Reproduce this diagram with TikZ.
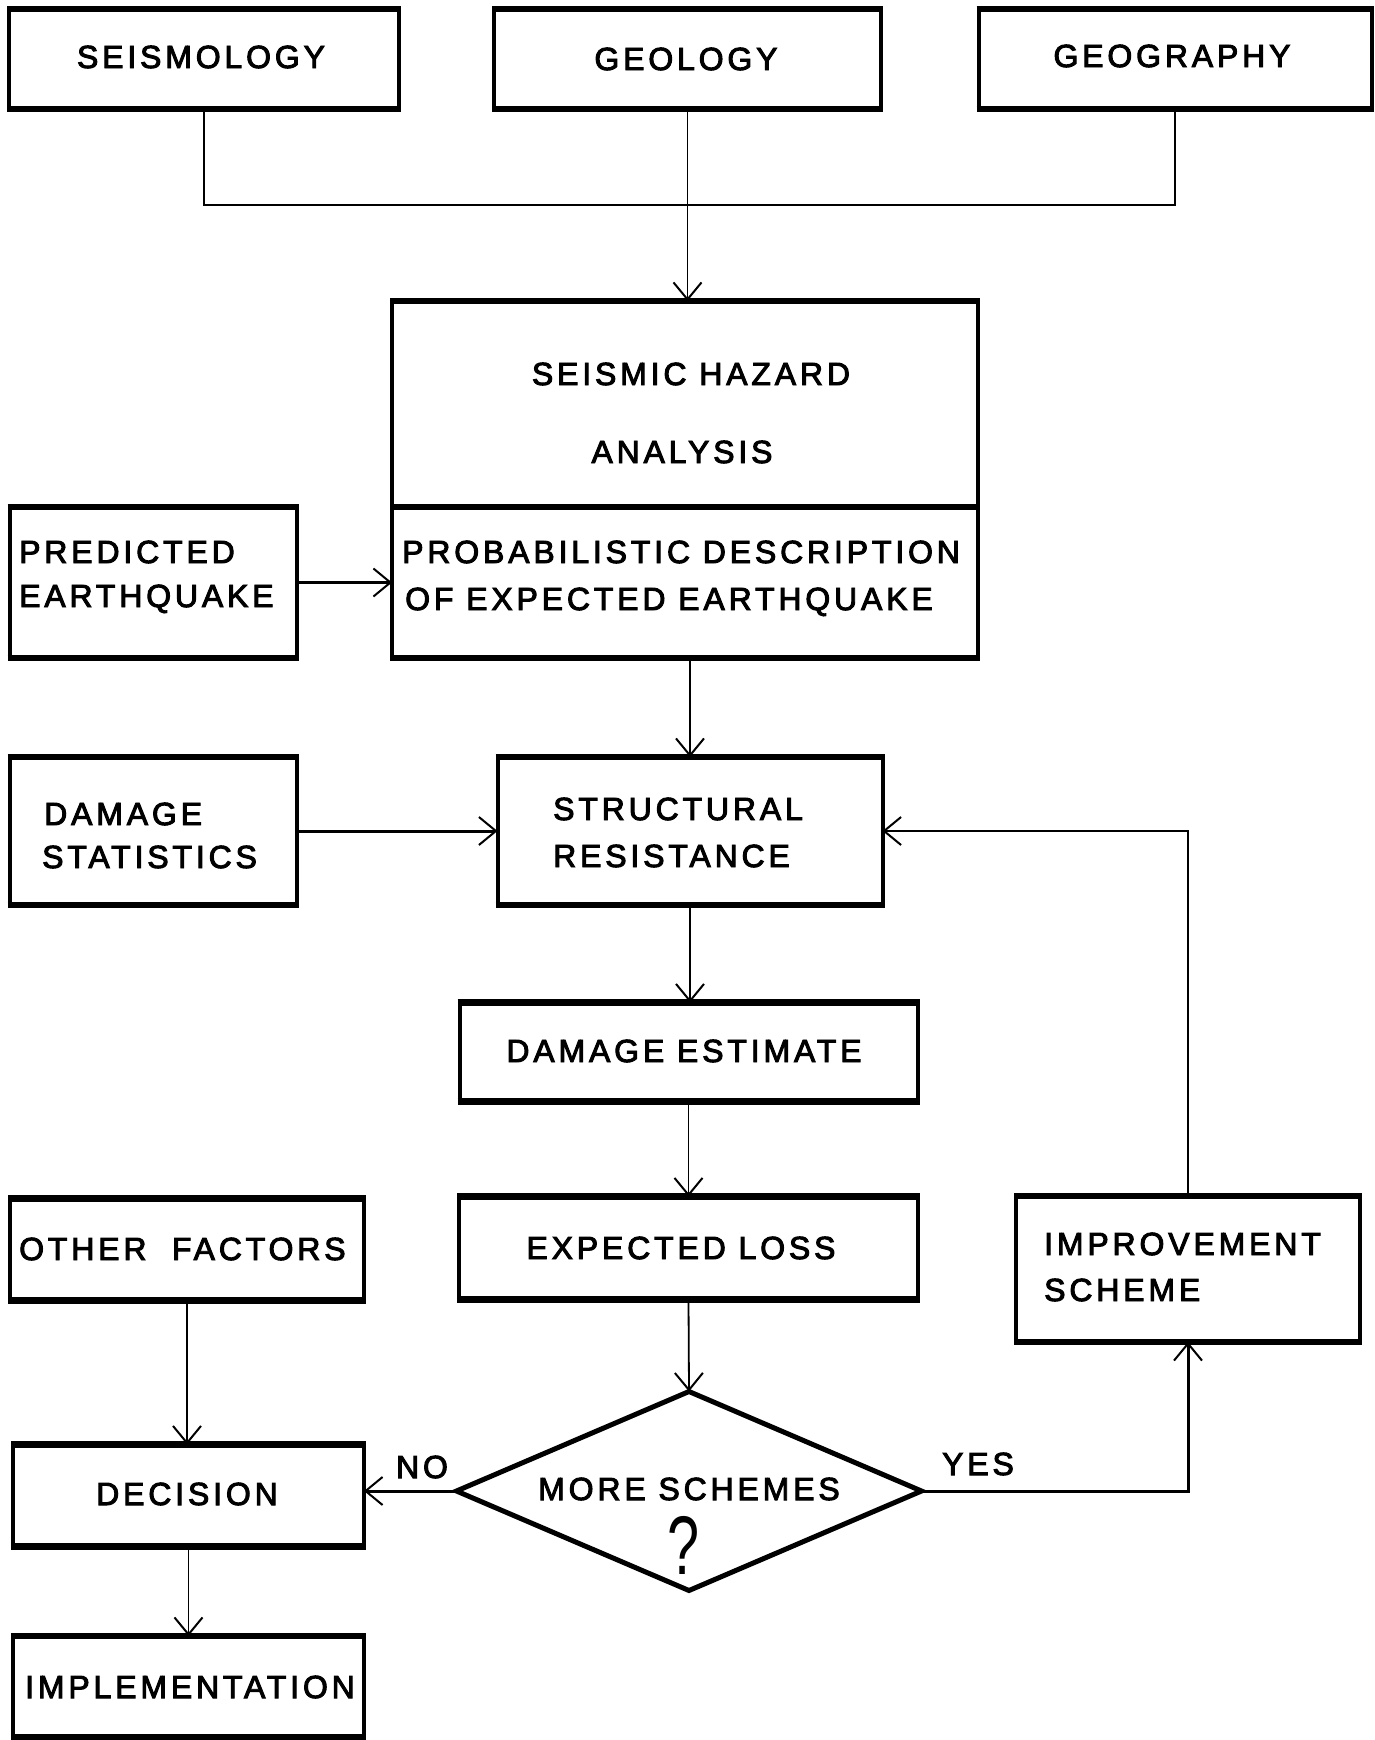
\documentclass[tikz,border=0pt]{standalone}
\usepackage{fontspec}
\setmainfont{Liberation Sans}[LetterSpace=12,FakeBold=3]
\usetikzlibrary{arrows.meta,shapes.geometric}

\begin{document}
\begin{tikzpicture}[x=1pt,y=-1pt,
  panel/.style={draw,line width=4pt,outer sep=0pt,inner sep=0pt,rectangle},
  lbl/.style={inner sep=0pt,anchor=base,font=\fontsize{32}{38}\selectfont},
  lbll/.style={lbl,anchor=base west},
  conn/.style={line width=1.8pt},
  heavy/.style={line width=3pt},
  arr/.style={-{Straight Barb[length=17pt,width=28pt,line width=2pt]}},
]
\useasboundingbox (0,0) rectangle (1375,1740);
\fill[white] (0,0) rectangle (1375,1740);

% ---- boxes ----
\node[panel,minimum width=390pt,minimum height=100pt] (seis)   at (204,59)    {};
\node[panel,minimum width=387pt,minimum height=100pt] (geol)   at (687.5,59)  {};
\node[panel,minimum width=393pt,minimum height=100pt] (geog)   at (1175,59)   {};
\node[panel,minimum width=586pt,minimum height=206pt] (haz)    at (685,404)   {};
\node[panel,minimum width=586pt,minimum height=151pt] (prob)   at (685,582.5) {};
\node[panel,minimum width=287pt,minimum height=151pt] (pred)   at (153,582.5) {};
\node[panel,minimum width=385pt,minimum height=148pt] (struct) at (690,831)   {};
\node[panel,minimum width=287pt,minimum height=148pt] (dstat)  at (153,831)   {};
\node[panel,minimum width=458pt,minimum height=99pt]  (dest)   at (688.5,1052){};
\node[panel,minimum width=459pt,minimum height=103pt] (eloss)  at (688.5,1248){};
\node[panel,minimum width=344pt,minimum height=146pt] (impr)   at (1188,1269) {};
\node[panel,minimum width=354pt,minimum height=102pt] (other)  at (187,1249.5){};
\node[panel,minimum width=351pt,minimum height=102pt] (dec)    at (188.5,1495.5){};
\node[panel,minimum width=351pt,minimum height=101pt] (impl)   at (188.5,1686.5){};
\node[draw,diamond,line width=5pt,minimum width=465pt,minimum height=199pt,
      inner sep=0pt,outer sep=0pt] (dia) at (689,1491) {};

% heavier top and bottom edges of the boxes
\foreach \n in {seis,geol,geog,haz,prob,pred,struct,dstat,dest,eloss,impr,other,dec,impl}{
  \draw[line width=6.5pt,shorten <=-2pt,shorten >=-2pt] (\n.north west) -- (\n.north east);
  \draw[line width=6.5pt,shorten <=-2pt,shorten >=-2pt] (\n.south west) -- (\n.south east);
}

% ---- texts ----
\node[lbl]  (seisT)    at (201,68)   {SEISMOLOGY};
\node[lbl]  (geolT)    at (686,70)   {GEOLOGY};
\node[lbl]  (geogT)    at (1172,67)  {GEOGRAPHY};
\node[lbl]  (hazT1)    at (691,385)  {SEISMIC HAZARD};
\node[lbl]  (hazT2)    at (682,463)  {ANALYSIS};
\node[lbll] (probT1)   at (402,563)  {PROBABILISTIC DESCRIPTION};
\node[lbll] (probT2)   at (405,610)  {OF EXPECTED EARTHQUAKE};
\node[lbll] (predT1)   at (19,563)   {PREDICTED};
\node[lbll] (predT2)   at (19,607)   {EARTHQUAKE};
\node[lbll] (dstatT1)  at (44,825)   {DAMAGE};
\node[lbll] (dstatT2)  at (42,868)   {STATISTICS};
\node[lbll] (structT1) at (553,820)  {STRUCTURAL};
\node[lbll] (structT2) at (553,867)  {RESISTANCE};
\node[lbl]  (destT)    at (684,1062) {DAMAGE ESTIMATE};
\node[lbl]  (elossT)   at (681,1259) {EXPECTED LOSS};
\node[lbll] (imprT1)   at (1044,1255){IMPROVEMENT};
\node[lbll] (imprT2)   at (1044,1301){SCHEME};
\node[lbll] (otherT)   at (19,1260)  {OTHER\ \ FACTORS};
\node[lbl]  (moreT)    at (689,1500) {MORE SCHEMES};
\node[inner sep=0pt] (qm) at (684,1545)
  {\addfontfeatures{FakeBold=0}\scalebox{0.9}[1.3]{\fontsize{64}{64}\selectfont ?}};
\node[lbl]  (noT)      at (422,1478) {NO};
\node[lbl]  (yesT)     at (978,1475) {YES};
\node[lbl]  (decT)     at (187,1505) {DECISION};
\node[lbl]  (implT)    at (190,1698) {IMPLEMENTATION};

% ---- connectors ----
\coordinate (join) at (688,205);
\draw[conn] (seis.south) |- (join) -| (geog.south);
\draw[conn,arr] (geol.south) -- (geol.south |- haz.north);
\draw[heavy,arr] (pred.east) -- (prob.west);
\draw[conn,arr] (prob.south -| struct.north) -- (struct.north);
\draw[heavy,arr] (dstat.east) -- (struct.west);
\draw[conn,arr] (struct.south) -- (struct.south |- dest.north);
\draw[conn,arr] (dest.south) -- (eloss.north);
\draw[conn,arr] (eloss.south) -- (dia.north);
\draw[heavy,arr] (dia.west) -- (dia.west -| dec.east);
\draw[heavy,arr] (dia.east) -| (impr.south);
\draw[conn,arr] (impr.north) |- (struct.east);
\draw[conn,arr] (other.south) -- (other.south |- dec.north);
\draw[conn,arr] (dec.south) -- (dec.south |- impl.north);
\end{tikzpicture}
\end{document}
